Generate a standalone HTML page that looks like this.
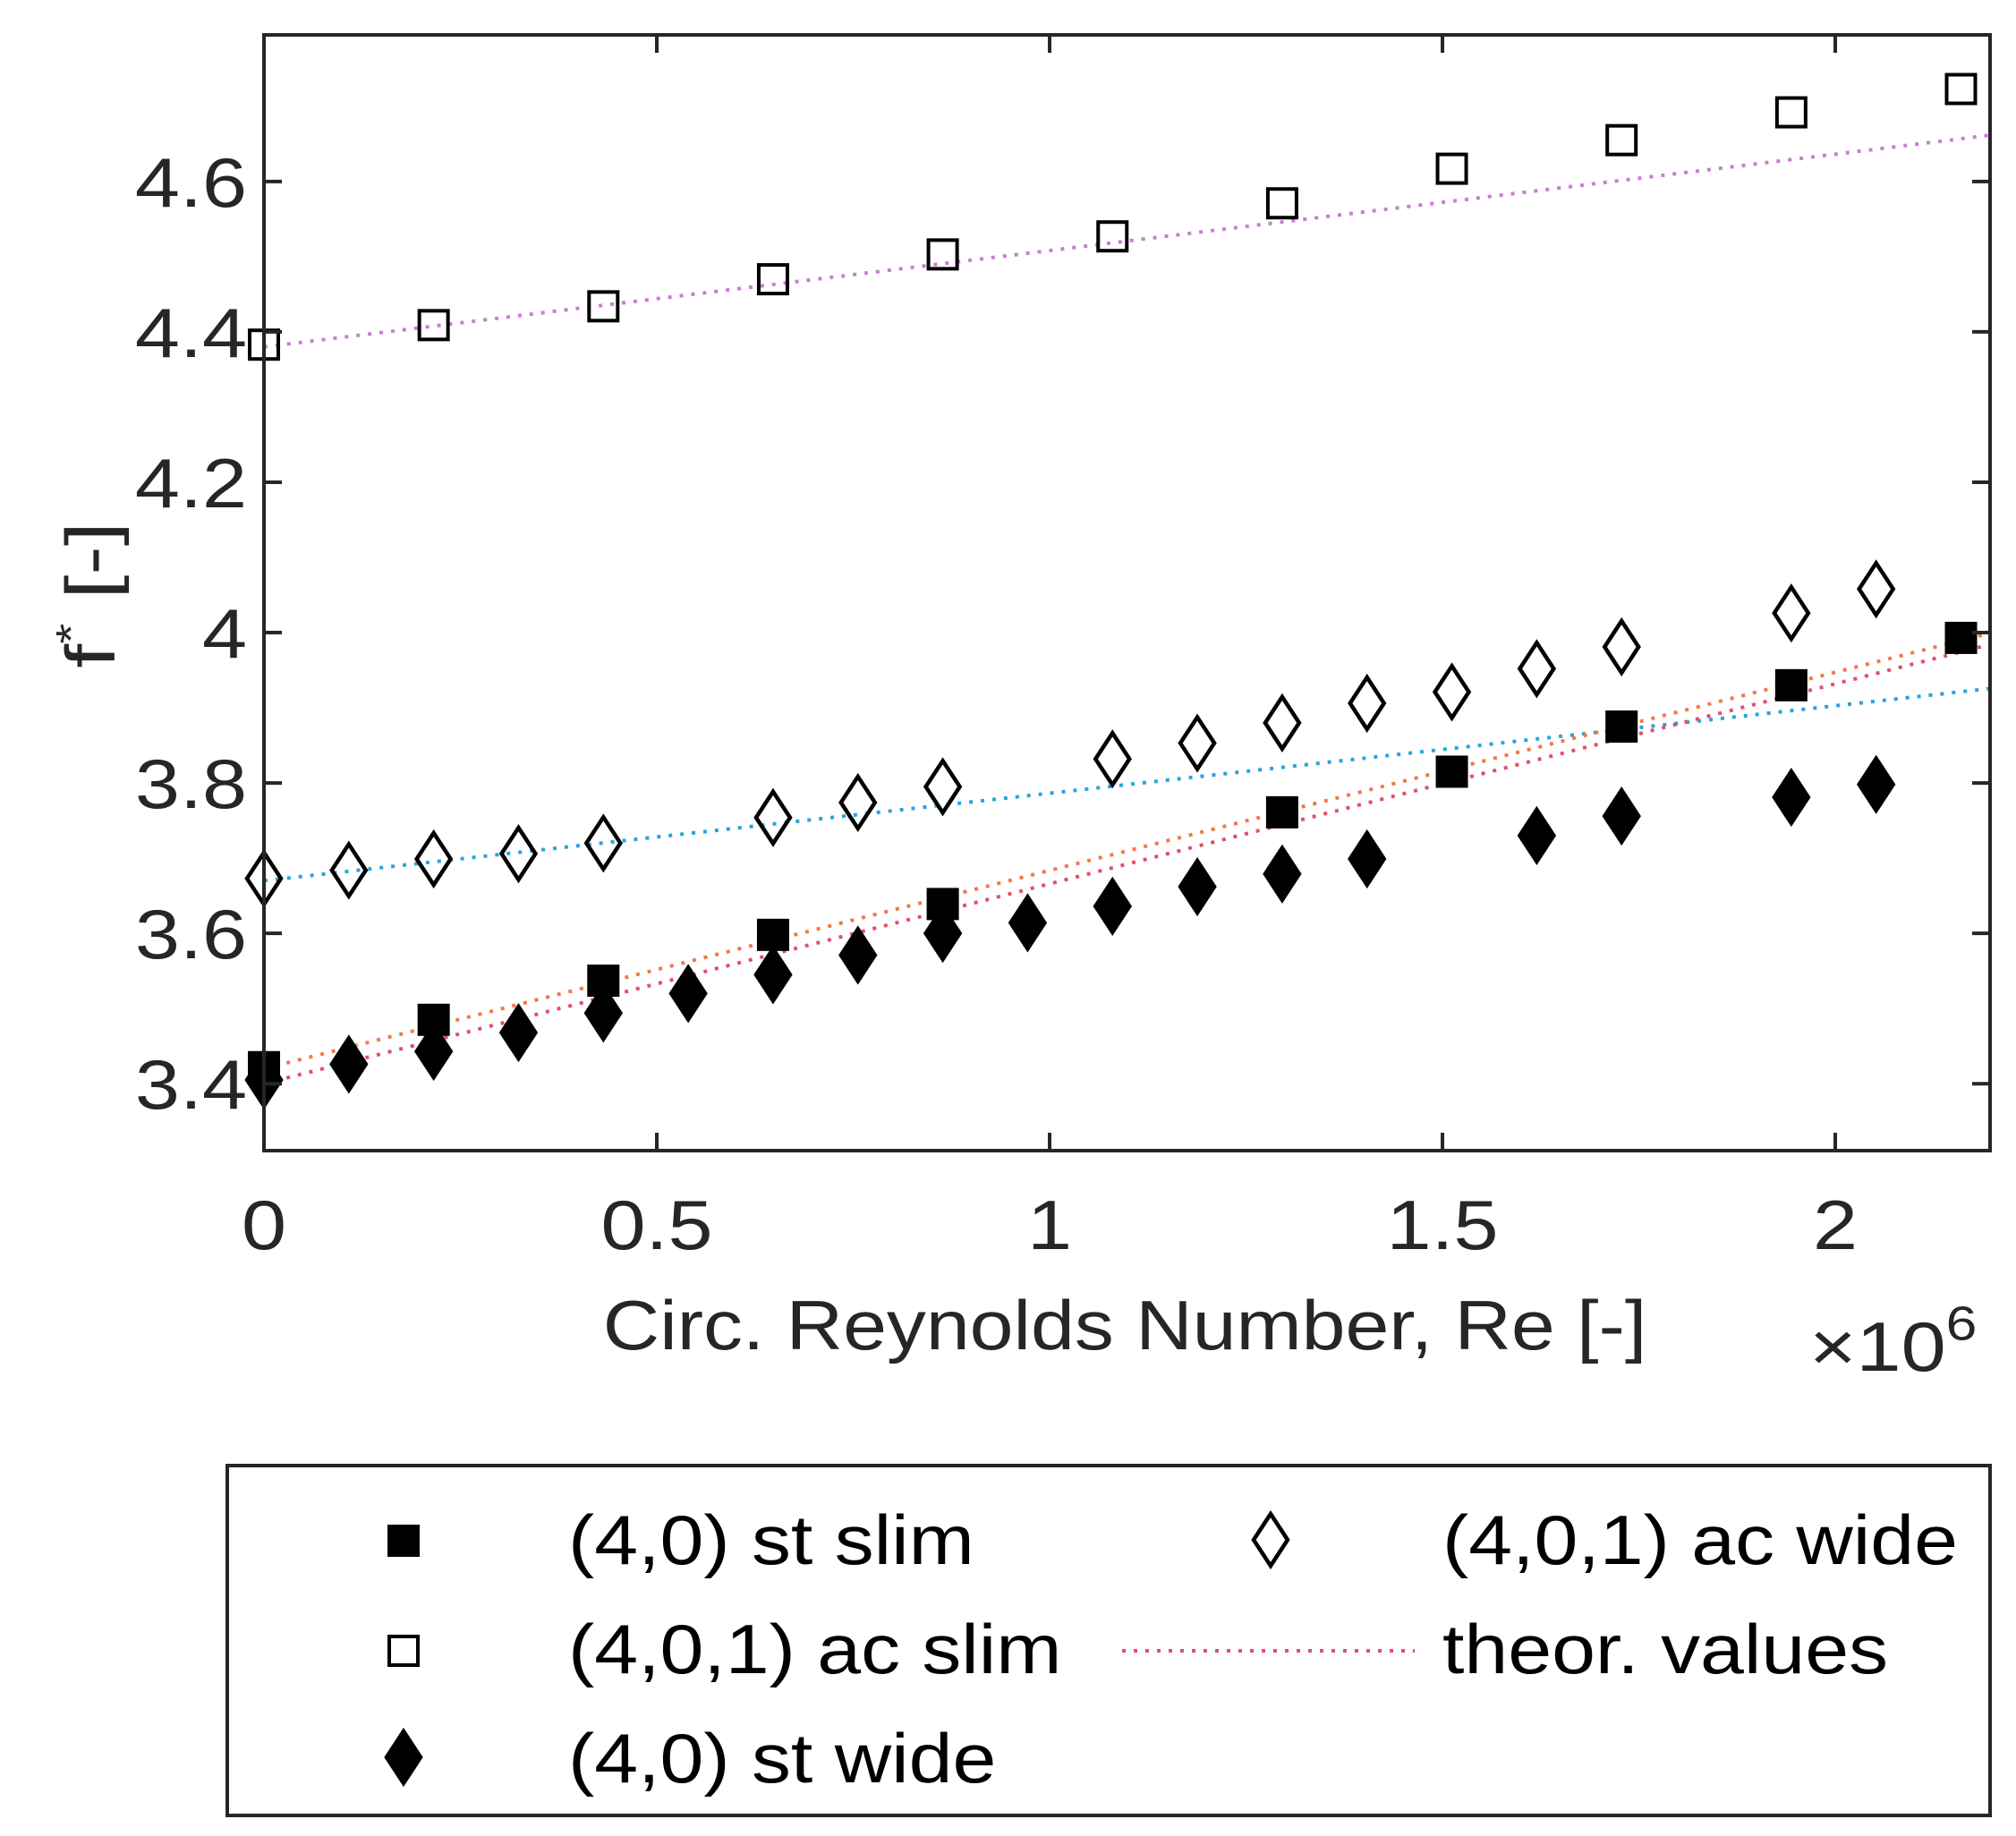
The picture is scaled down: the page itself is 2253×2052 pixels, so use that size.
<!DOCTYPE html>
<html><head><meta charset="utf-8"><style>
html,body{margin:0;padding:0;background:#fff;}
svg{display:block;font-family:"Liberation Sans",Arial,sans-serif;}
</style></head><body>
<svg id="chart" width="2253" height="2052" viewBox="0 0 2253 2052" xmlns="http://www.w3.org/2000/svg">
<rect x="0" y="0" width="2253" height="2052" fill="#fff"/>
<g id="plot"></g>
<g id="axes"></g>
</svg>
<script>
const xTicks = [0, 0.5, 1, 1.5, 2];
const xTickLabels = ["0", "0.5", "1", "1.5", "2"];
const yTicks = [3.4, 3.6, 3.8, 4.0, 4.2, 4.4, 4.6];
const yTickLabels = ["3.4", "3.6", "3.8", "4", "4.2", "4.4", "4.6"];

const acSlimX = [0, 0.216, 0.432, 0.648, 0.864, 1.08, 1.296, 1.512, 1.728, 1.944, 2.16];
const acSlimY = [4.383, 4.409, 4.434, 4.470, 4.503, 4.527, 4.571, 4.617, 4.655, 4.692, 4.723];

const acWideX = [0, 0.108, 0.216, 0.324, 0.432, 0.648, 0.756, 0.864, 1.08, 1.188, 1.296, 1.404, 1.512, 1.62, 1.728, 1.944, 2.052];
const acWideY = [3.673, 3.684, 3.699, 3.706, 3.720, 3.754, 3.774, 3.795, 3.832, 3.853, 3.880, 3.906, 3.921, 3.952, 3.981, 4.026, 4.058];

const stSlimX = [0, 0.216, 0.432, 0.648, 0.864, 1.296, 1.512, 1.728, 1.944, 2.16];
const stSlimY = [3.422, 3.485, 3.537, 3.598, 3.639, 3.761, 3.815, 3.875, 3.930, 3.993];

const stWideX = [0, 0.108, 0.216, 0.324, 0.432, 0.54, 0.648, 0.756, 0.864, 0.972, 1.08, 1.188, 1.296, 1.404, 1.62, 1.728, 1.944, 2.052];
const stWideY = [3.405, 3.426, 3.443, 3.468, 3.494, 3.520, 3.545, 3.571, 3.600, 3.614, 3.636, 3.662, 3.679, 3.699, 3.730, 3.756, 3.781, 3.798];

const fitX = [0, 2.2];
const purpleFitY = [4.38, 4.662];
const blueFitY = [3.67, 3.926];
const theorAY = [3.42, 4.0];
const theorBY = [3.40, 3.985];

const NS = "http://www.w3.org/2000/svg";
const L = 295, R = 2224, T = 39, B = 1286;
const xMin = 0, xMax = 2.197, yMin = 3.311, yMax = 4.795;
function sx(v){ return L + (v - xMin) / (xMax - xMin) * (R - L); }
function sy(v){ return B - (v - yMin) / (yMax - yMin) * (B - T); }
function mk(tag, attrs, parent){
  const e = document.createElementNS(NS, tag);
  for (const k in attrs) e.setAttribute(k, attrs[k]);
  parent.appendChild(e);
  return e;
}
const plot = document.getElementById('plot');
const axes = document.getElementById('axes');

const defs = mk('defs', {}, plot);
const cp = mk('clipPath', {id:'clip'}, defs);
mk('rect', {x:L, y:T, width:R-L, height:B-T}, cp);
const clipG = mk('g', {'clip-path':'url(#clip)'}, plot);

function fitLine(ys, color, name){
  const ln = mk('line', {x1:sx(fitX[0]), y1:sy(ys[0]), x2:sx(fitX[1]), y2:sy(ys[1]), stroke:color, 'stroke-width':4, 'stroke-dasharray':'4 9'}, clipG);
  
  
}
fitLine(purpleFitY, '#c77fd0', 'fit-line-ac-slim');
fitLine(blueFitY, '#2aa3dc', 'fit-line-ac-wide');
fitLine(theorAY, '#f07a4a', 'theory-line-a');
fitLine(theorBY, '#e0506e', 'theory-line-b');

function square(x, y, filled, parent, name){
  const s = 32;
  const r = mk('rect', {x:x-s/2, y:y-s/2, width:s, height:s, fill: filled ? '#000' : 'none', stroke:'#000', 'stroke-width':4}, parent);
  
  
}
function diamond(x, y, filled, parent, name){
  const w = 19, h = 29;
  const p = mk('polygon', {points:`${x},${y-h} ${x+w},${y} ${x},${y+h} ${x-w},${y}`, fill: filled ? '#000' : 'none', stroke:'#000', 'stroke-width':4.5}, parent);
  
  
}
acSlimX.forEach((v,i)=>square(sx(v), sy(acSlimY[i]), false, plot, 'point-ac-slim'));
acWideX.forEach((v,i)=>diamond(sx(v), sy(acWideY[i]), false, plot, 'point-ac-wide'));
stWideX.forEach((v,i)=>diamond(sx(v), sy(stWideY[i]), true, plot, 'point-st-wide'));
stSlimX.forEach((v,i)=>square(sx(v), sy(stSlimY[i]), true, plot, 'point-st-slim'));

const box = mk('rect', {x:L, y:T, width:R-L, height:B-T, fill:'none', stroke:'#262626', 'stroke-width':4}, axes);



xTicks.forEach((v,i)=>{
  const x = sx(v);
  mk('line', {x1:x, y1:B, x2:x, y2:B-20, stroke:'#262626', 'stroke-width':4}, axes);
  mk('line', {x1:x, y1:T, x2:x, y2:T+20, stroke:'#262626', 'stroke-width':4}, axes);
  const t = mk('text', {transform:`translate(${x},1396) scale(1.25,1.08)`, 'text-anchor':'middle', 'font-size':72, fill:'#262626'}, axes);
  t.textContent = xTickLabels[i];
  
  
});
yTicks.forEach((v,i)=>{
  const y = sy(v);
  mk('line', {x1:L, y1:y, x2:L+20, y2:y, stroke:'#262626', 'stroke-width':4}, axes);
  mk('line', {x1:R, y1:y, x2:R-20, y2:y, stroke:'#262626', 'stroke-width':4}, axes);
  const t = mk('text', {transform:`translate(276,${y+28}) scale(1.25,1.08)`, 'text-anchor':'end', 'font-size':72, fill:'#262626'}, axes);
  t.textContent = yTickLabels[i];
  
  
});
</script>
<svg width="2253" height="2052" viewBox="0 0 2253 2052" style="position:absolute;left:0;top:0;font-family:'Liberation Sans',Arial,sans-serif" xmlns="http://www.w3.org/2000/svg">
<text transform="translate(1257,1508) scale(1.22,1.08)" text-anchor="middle" font-size="72" fill="#262626">Circ. Reynolds Number, Re [-]</text>
<text transform="translate(2022,1532) scale(1.25,1.08)" font-size="72" fill="#262626">×10<tspan font-size="50" dy="-32">6</tspan></text>
<text transform="translate(128,665) rotate(-90) scale(1.35,1.08)" text-anchor="middle" font-size="72" fill="#262626">f<tspan font-size="44" dy="-30">*</tspan><tspan dy="30"> [-]</tspan></text>
<rect x="254" y="1638" width="1970" height="391" fill="none" stroke="#262626" stroke-width="4"/>
<rect x="435" y="1706" width="32" height="32" fill="#000" stroke="#000" stroke-width="4"/>
<text transform="translate(635,1748) scale(1.22,1.08)" font-size="72" fill="#000">(4,0) st slim</text>
<rect x="435" y="1829" width="32" height="32" fill="none" stroke="#000" stroke-width="4"/>
<text transform="translate(635,1870) scale(1.22,1.08)" font-size="72" fill="#000">(4,0,1) ac slim</text>
<polygon points="451,1935 470,1964 451,1993 432,1964" fill="#000" stroke="#000" stroke-width="4.5"/>
<text transform="translate(635,1992) scale(1.22,1.08)" font-size="72" fill="#000">(4,0) st wide</text>
<polygon points="1420,1692 1439,1721 1420,1750 1401,1721" fill="none" stroke="#000" stroke-width="4.5"/>
<text transform="translate(1612,1748) scale(1.22,1.08)" font-size="72" fill="#000">(4,0,1) ac wide</text>
<line x1="1254" y1="1845" x2="1581" y2="1845" stroke="#e0506e" stroke-width="4" stroke-dasharray="4 9"/>
<text transform="translate(1612,1870) scale(1.22,1.08)" font-size="72" fill="#000">theor. values</text>
</svg>
</body></html>
